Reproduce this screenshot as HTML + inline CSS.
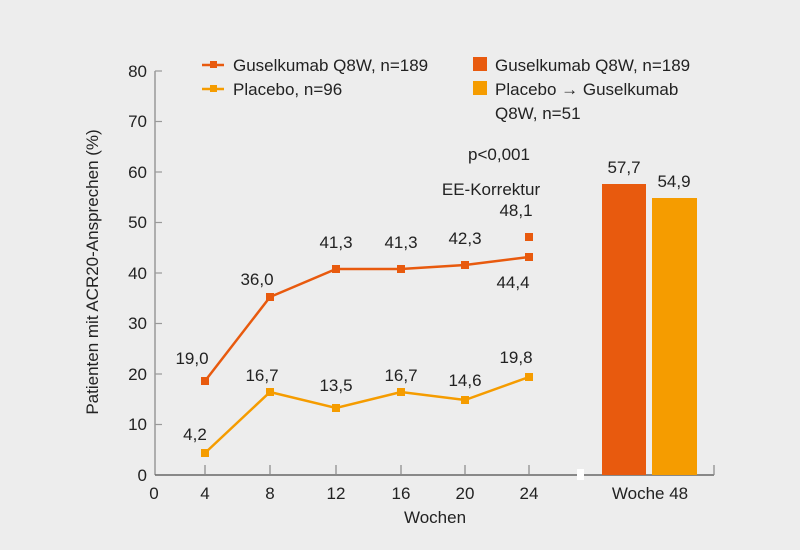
<!DOCTYPE html>
<html><head><meta charset="utf-8"><style>
body{margin:0;background:#ededed}
svg{display:block}
text{font-family:"Liberation Sans",sans-serif;fill:#222}
</style></head><body>
<svg width="800" height="550" viewBox="0 0 800 550">
<rect width="800" height="550" fill="#ededed"/>
<!-- y axis -->
<line x1="155" y1="71" x2="155" y2="475" stroke="#999" stroke-width="1.5"/>
<g stroke="#999" stroke-width="1.2">
<line x1="155" y1="71" x2="162" y2="71"/><line x1="155" y1="121.5" x2="162" y2="121.5"/>
<line x1="155" y1="172" x2="162" y2="172"/><line x1="155" y1="222.5" x2="162" y2="222.5"/>
<line x1="155" y1="273" x2="162" y2="273"/><line x1="155" y1="323.5" x2="162" y2="323.5"/>
<line x1="155" y1="374" x2="162" y2="374"/><line x1="155" y1="424.5" x2="162" y2="424.5"/>
</g>
<g font-size="17" text-anchor="end">
<text x="147" y="77">80</text><text x="147" y="127">70</text><text x="147" y="178">60</text>
<text x="147" y="228">50</text><text x="147" y="279">40</text><text x="147" y="329">30</text>
<text x="147" y="380">20</text><text x="147" y="430">10</text><text x="147" y="481">0</text>
</g>
<!-- x axis -->
<line x1="155" y1="475" x2="714" y2="475" stroke="#666" stroke-width="1.5"/>
<g stroke="#888" stroke-width="1.2">
<line x1="205" y1="465" x2="205" y2="475"/><line x1="270" y1="465" x2="270" y2="475"/>
<line x1="336" y1="465" x2="336" y2="475"/><line x1="401" y1="465" x2="401" y2="475"/>
<line x1="465" y1="465" x2="465" y2="475"/><line x1="529" y1="465" x2="529" y2="475"/>
<line x1="714" y1="465" x2="714" y2="475"/>
</g>
<rect x="577" y="469" width="7" height="11" fill="#fff"/>
<g font-size="17" text-anchor="middle">
<text x="154" y="499">0</text><text x="205" y="499">4</text><text x="270" y="499">8</text>
<text x="336" y="499">12</text><text x="401" y="499">16</text><text x="465" y="499">20</text>
<text x="529" y="499">24</text><text x="650" y="499">Woche 48</text>
<text x="435" y="523">Wochen</text>
</g>
<text font-size="17" text-anchor="middle" transform="translate(98,272) rotate(-90)">Patienten mit ACR20-Ansprechen (%)</text>
<!-- bars -->
<rect x="602" y="184" width="44" height="291" fill="#e85a0e"/>
<rect x="652" y="198" width="45" height="277" fill="#f59c00"/>
<text x="624" y="173" font-size="17" text-anchor="middle">57,7</text>
<text x="674" y="187" font-size="17" text-anchor="middle">54,9</text>
<!-- lines -->
<polyline points="205,381 270,297 336,269 401,269 465,265 529,257" fill="none" stroke="#e85a0e" stroke-width="2.5"/>
<g fill="#e85a0e">
<rect x="201" y="377" width="8" height="8"/><rect x="266" y="293" width="8" height="8"/>
<rect x="332" y="265" width="8" height="8"/><rect x="397" y="265" width="8" height="8"/>
<rect x="461" y="261" width="8" height="8"/><rect x="525" y="253" width="8" height="8"/>
<rect x="525" y="233" width="8" height="8"/>
</g>
<polyline points="205,453 270,392 336,408 401,392 465,400 529,377" fill="none" stroke="#f59c00" stroke-width="2.5"/>
<g fill="#f59c00">
<rect x="201" y="449" width="8" height="8"/><rect x="266" y="388" width="8" height="8"/>
<rect x="332" y="404" width="8" height="8"/><rect x="397" y="388" width="8" height="8"/>
<rect x="461" y="396" width="8" height="8"/><rect x="525" y="373" width="8" height="8"/>
</g>
<g font-size="17" text-anchor="middle">
<text x="192" y="364">19,0</text><text x="257" y="285">36,0</text><text x="336" y="248">41,3</text>
<text x="401" y="248">41,3</text><text x="465" y="244">42,3</text><text x="516" y="216">48,1</text>
<text x="513" y="288">44,4</text>
<text x="195" y="440">4,2</text><text x="262" y="381">16,7</text><text x="336" y="391">13,5</text>
<text x="401" y="381">16,7</text><text x="465" y="386">14,6</text><text x="516" y="363">19,8</text>
<text x="499" y="160">p&lt;0,001</text><text x="491" y="195">EE-Korrektur</text>
</g>
<!-- legend -->
<line x1="202" y1="65" x2="224" y2="65" stroke="#e85a0e" stroke-width="2.5"/>
<rect x="210" y="61" width="7" height="7" fill="#e85a0e"/>
<line x1="202" y1="89" x2="224" y2="89" stroke="#f59c00" stroke-width="2.5"/>
<rect x="210" y="85" width="7" height="7" fill="#f59c00"/>
<g font-size="17">
<text x="233" y="71">Guselkumab Q8W, n=189</text>
<text x="233" y="95">Placebo, n=96</text>
<text x="495" y="71">Guselkumab Q8W, n=189</text>
<text x="495" y="95">Placebo → Guselkumab</text>
<text x="495" y="119">Q8W, n=51</text>
</g>
<rect x="473" y="57" width="14" height="14" fill="#e85a0e"/>
<rect x="473" y="81" width="14" height="14" fill="#f59c00"/>
</svg>
</body></html>
